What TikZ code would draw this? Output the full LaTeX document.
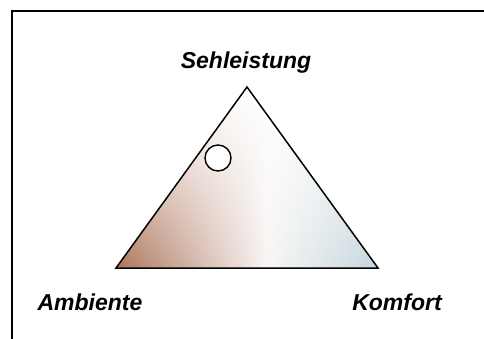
\documentclass[tikz,border=0pt]{standalone}
\usepackage{fontspec}
\setmainfont{Liberation Sans}
\usepackage{tikz}
\usetikzlibrary{positioning, fadings, calc}
\definecolor{AmbBraun}{RGB}{174,116,90}
\definecolor{MitteWeiss}{RGB}{248,246,245}
\definecolor{KomfBlau}{RGB}{178,202,212}
\tikzfading[name=fade oben, top color=transparent!0,
	middle color=transparent!92, bottom color=transparent!100]

\begin{document}
\begin{tikzpicture}[x=1pt, y=-1pt,
	ecke/.style={font=\fontsize{23}{27}\selectfont\bfseries\itshape, inner sep=0pt},
	kante/.style={draw=black, line width=1.5pt, line join=miter},
	punktkreis/.style={circle, draw=black, line width=1.4pt, fill=white,
		minimum size=26pt, inner sep=0pt}]

	\useasboundingbox (0,0) rectangle (484,338);
	% Rahmen, rechts und unten abgeschnitten
	\draw[line width=1.5pt] (12,360) -- (12,11) -- (500,11);

	\coordinate (spitze) at (247,87);
	\coordinate (links) at (116,268);
	\coordinate (rechts) at (378,268);

	% Farbverlauf im Dreieck
	\begin{scope}
		\clip (spitze) -- (links) -- (rechts) -- cycle;
		\shade[left color=AmbBraun, right color=KomfBlau, middle color=MitteWeiss]
			(116,87) rectangle (420,268);
		\fill[white, path fading=fade oben] (100,87) rectangle (400,268);
	\end{scope}
	\draw[kante] (spitze) -- (links) -- (rechts) -- cycle;

	\node[punktkreis] (punkt) at (218,158) {};

	\node[ecke] (seh) at (246,63) {Sehleistung};
	\node[ecke] (amb) at (90,302) {Ambiente};
	\node[ecke] (komf) at (397,302) {Komfort};
\end{tikzpicture}
\end{document}
